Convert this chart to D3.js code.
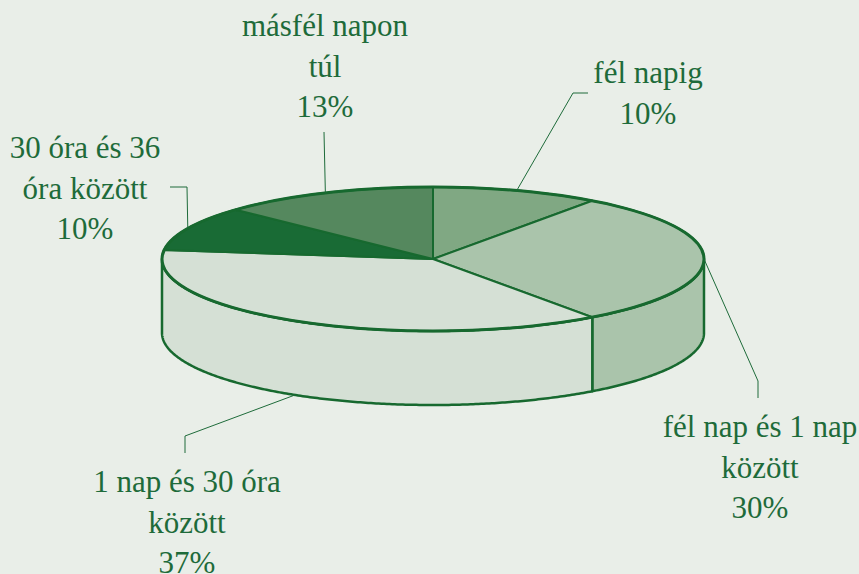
<!DOCTYPE html>
<html>
<head>
<meta charset="utf-8">
<script src="https://cdn.jsdelivr.net/npm/d3@7"></script>
<style>
  html, body { margin: 0; padding: 0; background: #e9eee8; }
  svg { display: block; }
</style>
</head>
<body>
<div id="chart"></div>
<script>
// data
const labels = [
  ["fél napig"],
  ["fél nap és 1 nap", "között"],
  ["1 nap és 30 óra", "között"],
  ["30 óra és 36", "óra között"],
  ["másfél napon", "túl"]
];
const values = [10, 30, 37, 10, 13];
const colors = ["#80a883", "#aac4ab", "#d5e0d5", "#196b35", "#55885e"];

// layout
const W = 859, H = 574;
const cx = 433, cy = 259, rx = 271, ry = 72, depth = 74;
const lineColor = "#17692f";
const textColor = "#1e6b3a";

// label centres (x, first baseline) and leader elbows
const labelPos = [
  {x: 648, y: 83, elbow: [[573, 93], [588, 93]]},
  {x: 760, y: 437, elbow: [[758, 381], [758, 398]]},
  {x: 187, y: 492, elbow: [[185, 436], [185, 453]]},
  {x: 85, y: 158, elbow: [[187, 187], [170, 187]]},
  {x: 325, y: 36, elbow: [[324, 132]]}
];

const svg = d3.select("#chart").append("svg")
  .attr("width", W).attr("height", H);

svg.append("rect").attr("width", W).attr("height", H).attr("fill", "#e9eee8");

const pie = d3.pie().sort(null).startAngle(0).endAngle(2 * Math.PI);
const arcs = pie(values);

// point on the ellipse, angle measured clockwise from 12 o'clock
function pt(a, dy) {
  return [cx + rx * Math.sin(a), cy - ry * Math.cos(a) + (dy || 0)];
}
function arcPoints(a0, a1, dy) {
  const n = Math.max(2, Math.ceil(Math.abs(a1 - a0) / 0.01));
  return d3.range(n + 1).map(i => pt(a0 + (a1 - a0) * i / n, dy));
}
const line = d3.line();

// side walls (only the front half is visible)
const g = svg.append("g");
arcs.forEach((d, i) => {
  const s = Math.max(d.startAngle, Math.PI / 2);
  const e = Math.min(d.endAngle, 3 * Math.PI / 2);
  if (s >= e) return;
  const pts = arcPoints(s, e, 0).concat(arcPoints(e, s, depth));
  g.append("path")
    .attr("d", line(pts) + "Z")
    .attr("fill", colors[i])
    .attr("stroke", lineColor)
    .attr("stroke-width", 2.5)
    .attr("stroke-linejoin", "round");
});

// top faces
arcs.forEach((d, i) => {
  const pts = [[cx, cy]].concat(arcPoints(d.startAngle, d.endAngle, 0));
  g.append("path")
    .attr("d", line(pts) + "Z")
    .attr("fill", colors[i])
    .attr("stroke", lineColor)
    .attr("stroke-width", 2)
    .attr("stroke-linejoin", "round");
});

// heavier rim round the top
g.append("ellipse")
  .attr("cx", cx).attr("cy", cy).attr("rx", rx).attr("ry", ry)
  .attr("fill", "none").attr("stroke", lineColor).attr("stroke-width", 3);

// leader lines and labels
arcs.forEach((d, i) => {
  const mid = (d.startAngle + d.endAngle) / 2;
  const front = Math.cos(mid) < 0;
  const start = pt(mid, front ? depth : 0);
  svg.append("path")
    .attr("d", line([start].concat(labelPos[i].elbow)))
    .attr("fill", "none")
    .attr("stroke", textColor)
    .attr("stroke-width", 1);

  const rows = labels[i].concat([values[i] + "%"]);
  const t = svg.append("text")
    .style("font-family", "'Liberation Serif'")
    .style("font-size", "31px")
    .attr("text-anchor", "middle")
    .attr("fill", textColor);
  rows.forEach((r, k) => {
    t.append("tspan")
      .attr("x", labelPos[i].x)
      .attr("y", labelPos[i].y + k * 40.5)
      .text(r);
  });
});
</script>
</body>
</html>
